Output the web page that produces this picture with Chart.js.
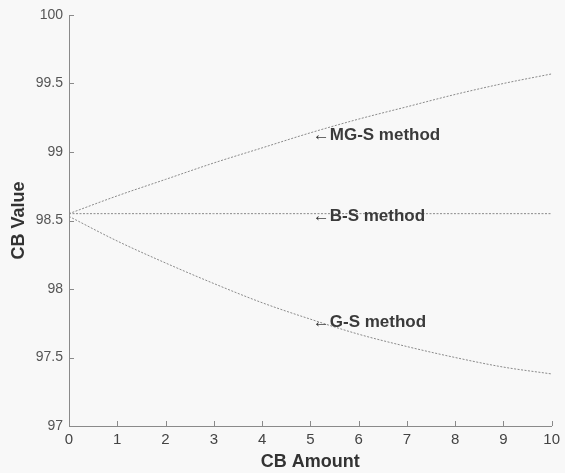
<!DOCTYPE html>
<html>
<head>
<meta charset="utf-8">
<script src="https://cdn.jsdelivr.net/npm/chart.js@4/dist/chart.umd.min.js"></script>
<style>
  html, body { margin: 0; padding: 0; background: #f8f8f8; }
  #wrap { width: 565px; height: 473px; }
</style>
</head>
<body>
<div id="wrap"><canvas id="cbChart" width="565" height="473"></canvas></div>
<script>
// data
const cbAmount = [0, 1, 2, 3, 4, 5, 6, 7, 8, 9, 10];
const mgsValues = [98.55, 98.68, 98.80, 98.92, 99.03, 99.14, 99.24, 99.33, 99.42, 99.50, 99.57];
const bsValues  = [98.55, 98.55, 98.55, 98.55, 98.55, 98.55, 98.55, 98.55, 98.55, 98.55, 98.55];
const gsValues  = [98.53, 98.35, 98.19, 98.04, 97.90, 97.78, 97.67, 97.58, 97.50, 97.43, 97.38];

const xTicks = [0, 1, 2, 3, 4, 5, 6, 7, 8, 9, 10];
const yTicks = [97, 97.5, 98, 98.5, 99, 99.5, 100];

// in-plot labels (text + data position)
const noteText = ['\u2190MG-S method', '\u2190B-S method', '\u2190G-S method'];
const noteX = [5.05, 5.05, 5.05];
const noteY = [99.12, 98.53, 97.76];

const FONT = '"Liberation Sans", Arial, sans-serif';

function toPoints(ys) {
    return cbAmount.map((x, i) => ({ x: x, y: ys[i] }));
}

const lineStyle = {
    borderColor: '#8a8a8a',
    borderWidth: 1,
    borderDash: [2, 1.5],
    pointRadius: 0,
    fill: false,
    cubicInterpolationMode: 'monotone'
};

// off-white page background
const bgPlugin = {
    id: 'bg',
    beforeDraw(chart) {
        const ctx = chart.ctx;
        ctx.save();
        ctx.fillStyle = '#f8f8f8';
        ctx.fillRect(0, 0, chart.width, chart.height);
        ctx.restore();
    }
};

// matlab style inward ticks + the method labels
const extrasPlugin = {
    id: 'extras',
    afterDraw(chart) {
        const ctx = chart.ctx;
        const xs = chart.scales.x, ys = chart.scales.y;
        const area = chart.chartArea;
        ctx.save();
        ctx.strokeStyle = '#8a8a8a';
        ctx.lineWidth = 1;
        ctx.beginPath();
        xTicks.forEach(v => {
            const px = Math.round(xs.getPixelForValue(v)) + 0.5;
            ctx.moveTo(px, area.bottom);
            ctx.lineTo(px, area.bottom - 5);
        });
        yTicks.forEach(v => {
            const py = Math.round(ys.getPixelForValue(v)) + 0.5;
            ctx.moveTo(area.left, py);
            ctx.lineTo(area.left + 5, py);
        });
        ctx.stroke();

        ctx.fillStyle = '#3a3a3a';
        ctx.font = 'bold 17px ' + FONT;
        ctx.textAlign = 'left';
        ctx.textBaseline = 'middle';
        noteText.forEach((t, i) => {
            ctx.fillText(t, xs.getPixelForValue(noteX[i]), ys.getPixelForValue(noteY[i]));
        });
        ctx.restore();
    }
};

const ctx = document.getElementById('cbChart').getContext('2d');
new Chart(ctx, {
    type: 'line',
    data: {
        datasets: [
            Object.assign({ label: 'MG-S method', data: toPoints(mgsValues) }, lineStyle),
            Object.assign({ label: 'B-S method', data: toPoints(bsValues) }, lineStyle),
            Object.assign({ label: 'G-S method', data: toPoints(gsValues) }, lineStyle)
        ]
    },
    options: {
        responsive: false,
        animation: false,
        layout: { padding: { top: 15, right: 10, left: 0, bottom: 0 } },
        plugins: {
            legend: { display: false },
            tooltip: { enabled: false }
        },
        scales: {
            x: {
                type: 'linear',
                min: 0,
                max: 10,
                afterBuildTicks: s => { s.ticks = xTicks.map(v => ({ value: v })); },
                afterFit: s => { s.height = 47; },
                grid: { drawOnChartArea: false, drawTicks: false },
                border: { color: '#8a8a8a', width: 1 },
                ticks: {
                    padding: 5,
                    color: '#444',
                    font: { family: FONT, size: 15 },
                    maxRotation: 0
                },
                title: {
                    display: true,
                    text: 'CB Amount',
                    color: '#333',
                    font: { family: FONT, size: 18, weight: 'bold' },
                    padding: { top: 0, bottom: 0 }
                }
            },
            y: {
                type: 'linear',
                min: 97,
                max: 100,
                afterBuildTicks: s => { s.ticks = yTicks.map(v => ({ value: v })); },
                afterFit: s => { s.width = 69; },
                grid: { drawOnChartArea: false, drawTicks: false },
                border: { color: '#8a8a8a', width: 1 },
                ticks: {
                    padding: 6,
                    color: '#555',
                    font: { family: FONT, size: 14 },
                    callback: v => String(v)
                },
                title: {
                    display: true,
                    text: 'CB Value',
                    color: '#333',
                    font: { family: FONT, size: 18, weight: 'bold' },
                    padding: { top: 8, bottom: 0 }
                }
            }
        }
    },
    plugins: [bgPlugin, extrasPlugin]
});
</script>
</body>
</html>
